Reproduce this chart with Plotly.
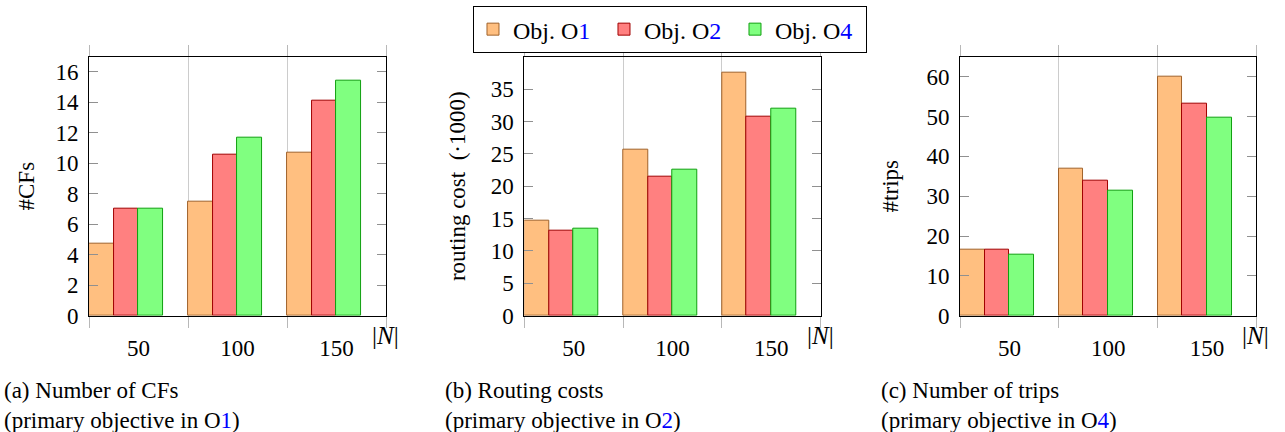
import plotly.graph_objects as go

categories = ["50", "100", "150"]
series_names = ["Obj. O<span style='color:#0000ff'>1</span>",
                "Obj. O<span style='color:#0000ff'>2</span>",
                "Obj. O<span style='color:#0000ff'>4</span>"]

cfs_o1 = [4.7, 7.5, 10.7]
cfs_o2 = [7.0, 10.6, 14.1]
cfs_o4 = [7.0, 11.7, 15.4]

cost_o1 = [14.6, 25.7, 37.5]
cost_o2 = [13.2, 21.5, 30.8]
cost_o4 = [13.45, 22.5, 32.0]

trips_o1 = [16.5, 37.0, 60.0]
trips_o2 = [16.5, 34.0, 53.3]
trips_o4 = [15.4, 31.3, 49.6]

panels = [
    dict(data=[cfs_o1, cfs_o2, cfs_o4], ytitle="#CFs", yrange=[0, 17],
         ytickvals=list(range(0, 17, 2)),
         caption="(a) Number of CFs<br>(primary objective in O<span style='color:#0000ff'>1</span>)"),
    dict(data=[cost_o1, cost_o2, cost_o4], ytitle="routing cost  (·1000)", yrange=[0, 40],
         ytickvals=list(range(0, 36, 5)),
         caption="(b) Routing costs<br>(primary objective in O<span style='color:#0000ff'>2</span>)"),
    dict(data=[trips_o1, trips_o2, trips_o4], ytitle="#trips", yrange=[0, 65],
         ytickvals=list(range(0, 61, 10)),
         caption="(c) Number of trips<br>(primary objective in O<span style='color:#0000ff'>4</span>)"),
]

fills = ["#FFBF80", "#FF8080", "#80FF80"]
edges = ["#A0622A", "#A00000", "#10A010"]
offsets = [-0.5, -0.25, 0.0]

xdomains = [[0.0693, 0.3004], [0.4080, 0.6387], [0.7471, 0.9777]]
ydomain = [0.2692, 0.8688]
caption_x = [0.0015, 0.3445, 0.684]
title_standoff = [14, 18, 21]

FONT = "Liberation Serif"
fig = go.Figure()
xpos = list(range(len(categories)))

for p, panel in enumerate(panels):
    sfx = "" if p == 0 else str(p + 1)
    for s in range(3):
        fig.add_trace(go.Bar(
            x=xpos, y=panel["data"][s], name=series_names[s],
            width=0.25, offset=offsets[s],
            marker=dict(color=fills[s], line=dict(color=edges[s], width=1)),
            xaxis="x" + sfx, yaxis="y" + sfx,
            showlegend=(p == 0), legendgroup=str(s),
        ))
    fig.layout["xaxis" + sfx] = dict(
        domain=xdomains[p], anchor="y" + sfx, range=[-0.5, 2.5],
        tickvals=xpos, ticktext=categories, ticks="", showgrid=False,
        showline=True, linecolor="black", linewidth=1, mirror="ticks",
        tickfont=dict(family=FONT, size=23, color="black"),
        ticklabelstandoff=12, automargin=False,
        minor=dict(tickvals=[-0.5, 0.5, 1.5, 2.5], ticks="outside", ticklen=11,
                   tickcolor="#b8b8b8", tickwidth=1, showgrid=True,
                   gridcolor="#cccccc", gridwidth=1),
        zeroline=False, fixedrange=True,
    )
    fig.layout["yaxis" + sfx] = dict(
        domain=ydomain, anchor="x" + sfx, range=panel["yrange"],
        tickvals=panel["ytickvals"], ticks="inside", ticklen=9,
        tickcolor="#909090", tickwidth=1,
        showline=True, linecolor="black", linewidth=1, mirror="ticks",
        showgrid=False, zeroline=False, automargin=False,
        tickfont=dict(family=FONT, size=23, color="black"),
        ticklabelstandoff=5,
        title=dict(text=panel["ytitle"], font=dict(family=FONT, size=23, color="black"),
                   standoff=title_standoff[p]),
    )
    fig.add_annotation(
        x=2.5, y=0, xref="x" + sfx, yref="y" + sfx, text="|<i>N</i>|",
        showarrow=False, xanchor="left", yanchor="top", xshift=-16, yshift=-4,
        font=dict(family=FONT, size=25, color="black"),
    )
    fig.add_annotation(
        x=caption_x[p], y=0.0, xref="paper", yref="paper", text=panel["caption"],
        showarrow=False, xanchor="left", yanchor="bottom", align="left",
        yshift=-3,
        font=dict(family=FONT, size=23, color="black"),
    )

fig.update_layout(
    width=1285, height=432,
    margin=dict(l=0, r=0, t=0, b=0),
    paper_bgcolor="white", plot_bgcolor="white",
    barmode="overlay", bargap=0,
    showlegend=True,
    legend=dict(orientation="h", x=0.5214, y=0.986, xanchor="center", yanchor="top",
                bordercolor="black", borderwidth=1, bgcolor="white",
                font=dict(family=FONT, size=24, color="black"),
                entrywidth=86, entrywidthmode="pixels", itemwidth=30,
                tracegroupgap=0),
)

fig.write_html("out.html", config={"displayModeBar": False},
               post_script="document.body.style.margin='0';document.body.style.overflow='hidden';")
